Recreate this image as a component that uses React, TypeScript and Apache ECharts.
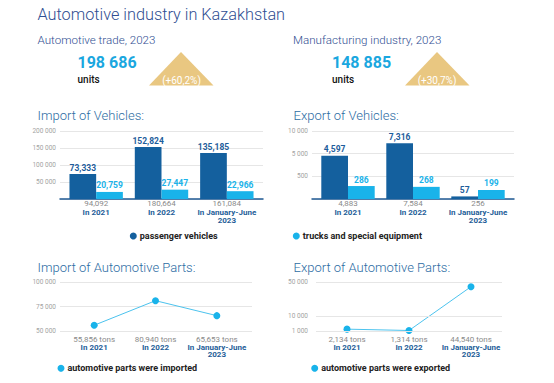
import React, { useEffect, useRef } from 'react';
import * as echarts from 'echarts';

// ---- data ----
const periods = ['In 2021', 'In 2022', 'In January-June\n2023'];
const importPassenger = [73333, 152824, 135185];
const importTrucks = [20759, 27447, 22966];
const importVehicleTotals = [94092, 180664, 161084];
const importVehicleTicks = [0, 50000, 100000, 150000, 200000];
const exportPassenger = [4597, 7316, 57];
const exportTrucks = [286, 268, 199];
const exportVehicleTotals = [4883, 7584, 256];
const exportVehicleTicks = [0, 500, 5000, 10000];
const partsImported = [55856, 80940, 65653];
const importPartsTicks = [50000, 75000, 100000];
const partsExported = [2134, 1314, 44540];
const exportPartsTicks = [1000, 10000, 50000];
const exportPartsTickPos = [0, 3, 10];
const tradeUnits = 198686;
const tradeGrowth = '+60,2%';
const manufUnits = 148885;
const manufGrowth = '+30,7%';

const DARK = '#14609e';
const LIGHT = '#19b3ea';
const NAVY = '#304e92';
const STEEL = '#2c6ca3';
const GRID_LINE = '#e6e6e6';
const YLAB_COLOR = '#a3a3a3';
const FONT = 'Roboto, "Liberation Sans", sans-serif';

const fmtComma = (v: number) => v.toLocaleString('en-US');
const fmtSpace = (v: number) => v.toLocaleString('en-US').replace(/,/g, ' ');

function piecewise(v: number, knots: number[], pos: number[]) {
  for (let i = 0; i < knots.length - 1; i++) {
    if (v <= knots[i + 1]) {
      return pos[i] + ((v - knots[i]) / (knots[i + 1] - knots[i])) * (pos[i + 1] - pos[i]);
    }
  }
  return pos[pos.length - 1];
}

const evPos = exportVehicleTicks.map((_, i) => i);

function catLabel(totals: string[], lineHA: number, lineHB: number, margin: number) {
  return {
    margin,
    interval: 0,
    formatter: (_: string, i: number) =>
      `{a|${totals[i]}}\n` + periods[i].split('\n').map((s) => `{b|${s}}`).join('\n'),
    rich: {
      a: { fontSize: 8, color: '#8a8a8a', fontFamily: FONT, lineHeight: lineHA },
      b: { fontSize: 8, color: '#245e98', fontWeight: 'bold', fontFamily: FONT, lineHeight: lineHB },
    },
  };
}

export default function App() {
  const ref = useRef<HTMLDivElement>(null);
  useEffect(() => {
    document.body.style.margin = '0';
    if (!ref.current) return;
    const chart = echarts.init(ref.current, undefined, { renderer: 'svg' });

    const splitLine = { show: true, lineStyle: { color: GRID_LINE, width: 1 } };
    const yLab = { fontSize: 6.5, color: YLAB_COLOR, fontFamily: FONT, margin: 4 };

    // wide grids (gridlines, y labels) and narrow grids (data)
    const wide = [
      { left: 60, top: 131, width: 203, height: 68 },
      { left: 312, top: 131, width: 202, height: 68 },
      { left: 60, top: 282, width: 192, height: 49 },
      { left: 312, top: 282, width: 194, height: 49 },
    ];
    const narrow = [
      { left: 63.5, top: 131, width: 196, height: 68 },
      { left: 315.5, top: 131, width: 195, height: 68 },
      { left: 63.5, top: 282, width: 184, height: 49 },
      { left: 316, top: 282, width: 186, height: 49 },
    ];
    const grid = [...wide, ...narrow];

    const xAxis: any[] = [];
    wide.forEach((_, i) => {
      xAxis.push({
        type: 'category',
        gridIndex: i,
        data: periods,
        axisTick: { show: false },
        axisLabel: { show: false },
        axisLine: i < 2 ? { show: true, lineStyle: { color: '#1f5a94', width: 1.5 } } : { show: false },
        splitLine: { show: false },
      });
    });
    const totalsStr = [
      importVehicleTotals.map(fmtComma),
      exportVehicleTotals.map(fmtComma),
      partsImported.map((v) => fmtComma(v) + ' tons'),
      partsExported.map((v) => fmtComma(v) + ' tons'),
    ];
    narrow.forEach((_, i) => {
      xAxis.push({
        type: 'category',
        gridIndex: 4 + i,
        data: periods,
        axisTick: { show: false },
        axisLine: { show: false },
        axisLabel: i < 2 ? catLabel(totalsStr[i], 9, 8, 0) : catLabel(totalsStr[i], 8.5, 7.5, 4),
      });
    });

    const yAxis: any[] = [
      {
        type: 'value', gridIndex: 0, min: 0, max: 200000, interval: 50000,
        axisLine: { show: false }, axisTick: { show: false }, splitLine,
        axisLabel: { ...yLab, formatter: (v: number) => (v === importVehicleTicks[0] ? '' : fmtSpace(v)) },
      },
      {
        type: 'value', gridIndex: 1, min: 0, max: 3, interval: 1,
        axisLine: { show: false }, axisTick: { show: false }, splitLine,
        axisLabel: {
          ...yLab,
          formatter: (v: number) => {
            const t = exportVehicleTicks[Math.round(v)];
            return t ? fmtSpace(t) : '';
          },
        },
      },
      {
        type: 'value', gridIndex: 2, min: importPartsTicks[0], max: importPartsTicks[2], interval: 25000,
        axisLine: { show: false }, axisTick: { show: false }, splitLine,
        axisLabel: { ...yLab, formatter: (v: number) => fmtSpace(v) },
      },
      {
        type: 'value', gridIndex: 3, min: 0, max: 10, interval: 1,
        axisLine: { show: false }, axisTick: { show: false }, splitLine: { show: false },
        axisLabel: {
          ...yLab,
          formatter: (v: number) => {
            const k = exportPartsTickPos.indexOf(Math.round(v));
            return k >= 0 ? fmtSpace(exportPartsTicks[k]) : '';
          },
        },
      },
      { type: 'value', gridIndex: 4, min: 0, max: 200000, show: false, splitLine: { show: false } },
      { type: 'value', gridIndex: 5, min: 0, max: 3, show: false, splitLine: { show: false } },
      { type: 'value', gridIndex: 6, min: 50000, max: 100000, show: false, splitLine: { show: false } },
      { type: 'value', gridIndex: 7, min: 0, max: 10, show: false, splitLine: { show: false } },
    ];

    const barLabel = (color: string, raw: number[]) => ({
      show: true,
      position: 'top',
      distance: 2,
      color,
      fontSize: 8.5,
      fontWeight: 'bold',
      fontFamily: FONT,
      formatter: (p: any) => fmtComma(raw[p.dataIndex]),
    });

    const barCommon = { type: 'bar', barWidth: 26.7, barGap: '0%' };
    const lineCommon = {
      type: 'line',
      symbol: 'circle',
      symbolSize: 7,
      lineStyle: { width: 1, color: '#4cc3ee' },
      itemStyle: { color: LIGHT },
    };

    const series: any[] = [
      {
        ...barCommon, name: 'passenger vehicles', xAxisIndex: 4, yAxisIndex: 4,
        data: importPassenger, itemStyle: { color: DARK }, label: barLabel('#1d5d9b', importPassenger),
      },
      {
        ...barCommon, name: 'trucks and special equipment', xAxisIndex: 4, yAxisIndex: 4,
        data: importTrucks, itemStyle: { color: LIGHT }, label: barLabel(LIGHT, importTrucks),
      },
      {
        ...barCommon, name: 'passenger vehicles', xAxisIndex: 5, yAxisIndex: 5,
        data: exportPassenger.map((v) => piecewise(v, exportVehicleTicks, evPos)),
        itemStyle: { color: DARK }, label: barLabel('#1d5d9b', exportPassenger),
      },
      {
        ...barCommon, name: 'trucks and special equipment', xAxisIndex: 5, yAxisIndex: 5,
        data: exportTrucks.map((v) => piecewise(v, exportVehicleTicks, evPos)),
        itemStyle: { color: LIGHT }, label: barLabel(LIGHT, exportTrucks),
      },
      {
        ...lineCommon, name: 'automotive parts were imported', xAxisIndex: 6, yAxisIndex: 6,
        data: partsImported,
      },
      {
        ...lineCommon, name: 'automotive parts were exported', xAxisIndex: 7, yAxisIndex: 7,
        data: partsExported.map((v) => piecewise(v, exportPartsTicks, exportPartsTickPos)),
        markLine: {
          silent: true,
          symbol: ['none', 'none'],
          label: { show: false },
          lineStyle: { color: GRID_LINE, width: 1, type: 'solid' },
          data: exportPartsTickPos.map((p) => ({ yAxis: p })),
        },
      },
    ];

    const legendBase = {
      icon: 'circle',
      itemWidth: 7,
      itemHeight: 7,
      padding: 0,
      selectedMode: false,
      textStyle: { fontSize: 9, fontWeight: 'bold', color: '#222', fontFamily: FONT, padding: [0, 0, 0, -2] },
    };
    const legend = [
      { ...legendBase, left: 129.8, top: 231.5, data: ['passenger vehicles'] },
      { ...legendBase, left: 292.8, top: 231.5, data: ['trucks and special equipment'] },
      { ...legendBase, left: 57.5, top: 363.8, data: ['automotive parts were imported'] },
      { ...legendBase, left: 311.2, top: 363.8, data: ['automotive parts were exported'] },
    ];

    const txt = (x: number, y: number, text: string, font: string, fill: string, align = 'left') => ({
      type: 'text',
      x,
      y,
      silent: true,
      style: { text, font, fill, align, verticalAlign: 'middle' },
    });

    const graphic: any[] = [
      txt(37.5, 14.5, 'Automotive industry in Kazakhstan', `300 16.3px ${FONT}`, NAVY),
      txt(37.5, 40, 'Automotive trade, 2023', `300 11.6px ${FONT}`, NAVY),
      txt(293, 40, 'Manufacturing industry, 2023', `300 11.6px ${FONT}`, NAVY),
      txt(77.5, 62.5, fmtSpace(tradeUnits), `bold 16px ${FONT}`, '#1aa7df'),
      txt(332, 62.5, fmtSpace(manufUnits), `bold 16px ${FONT}`, '#1aa7df'),
      txt(77.5, 79.5, 'units', `500 10px ${FONT}`, '#111'),
      txt(332, 79.5, 'units', `500 10px ${FONT}`, '#111'),
      {
        type: 'polygon', silent: true,
        shape: { points: [[149, 85.5], [181, 52], [213.5, 85.5]] },
        style: { fill: '#e9c781' },
      },
      {
        type: 'polygon', silent: true,
        shape: { points: [[405, 85.5], [437, 52], [469.5, 85.5]] },
        style: { fill: '#e9c781' },
      },
      txt(181.5, 80, `(${tradeGrowth})`, `10px ${FONT}`, '#fff', 'center'),
      txt(437, 80, `(${manufGrowth})`, `10px ${FONT}`, '#fff', 'center'),
      txt(37.5, 115, 'Import of Vehicles:', `300 13px ${FONT}`, STEEL),
      txt(293.5, 115, 'Export of Vehicles:', `300 13px ${FONT}`, STEEL),
      txt(37.5, 267, 'Import of Automotive Parts:', `300 13px ${FONT}`, STEEL),
      txt(293.5, 267, 'Export of Automotive Parts:', `300 13px ${FONT}`, STEEL),
    ];

    chart.setOption({
      animation: false,
      backgroundColor: '#ffffff',
      textStyle: { fontFamily: FONT },
      grid,
      xAxis,
      yAxis,
      series,
      legend,
      graphic,
    });
    return () => chart.dispose();
  }, []);
  return <div ref={ref} style={{ width: 554, height: 383 }} />;
}
